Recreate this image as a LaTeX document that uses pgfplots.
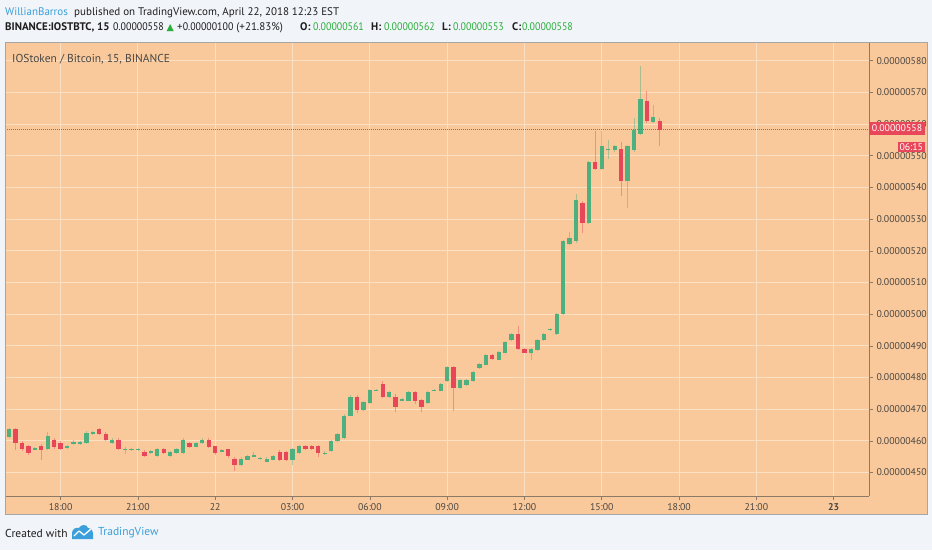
\documentclass[border=0pt]{standalone}
\usepackage{graphicx}
\usepackage{pgfplots}
\pgfplotsset{compat=1.18}
\usepackage{pgfplotstable}
\usepackage{fontspec}
\setmainfont{PT Sans}
\newfontfamily\symfont{DejaVu Sans}
\definecolor{bgout}{HTML}{F1F4F8}
\definecolor{panel}{HTML}{F9C99C}
\definecolor{gridc}{HTML}{FCE0C4}
\definecolor{upc}{HTML}{4DB07E}
\definecolor{dnc}{HTML}{E8475A}
\definecolor{tvblue}{HTML}{3A9FDA}
\definecolor{txtgray}{HTML}{4A4641}
\definecolor{axline}{HTML}{8C7A66}
\definecolor{headgreen}{HTML}{2AAE3A}
\definecolor{darktxt}{HTML}{1E1E1E}
\newcommand{\nar}[1]{\scalebox{0.9}[1]{#1}}

% t = hours after 18:00 (Apr 21); o h l c in satoshi (1e-8 BTC)
\pgfplotstableread{
t o h l c
-2.00 461.3 464.0 461.0 463.6
-1.00 457.2 458.0 457.0 457.6
-0.50 457.3 462.8 457.0 461.5
0.25 457.9 458.8 457.5 458.3
0.50 459.1 460.3 458.8 459.5
0.75 459.1 460.0 458.8 459.5
1.00 459.2 463.0 459.0 462.5
1.25 462.3 463.0 462.0 462.7
2.00 459.2 460.8 459.0 460.4
2.50 457.1 458.0 456.0 457.5
2.75 457.1 457.8 456.8 457.5
3.00 457.1 457.8 456.8 457.5
3.50 456.3 457.0 456.0 456.7
3.75 455.2 457.8 455.0 457.3
4.25 455.2 456.8 455.0 456.5
4.50 456.2 457.6 456.0 457.3
4.75 456.2 461.0 456.0 460.4
5.25 458.1 459.8 458.0 459.4
5.50 459.2 460.8 459.0 460.4
6.25 456.6 457.3 456.4 457.0
7.00 452.3 454.8 452.0 454.4
7.25 454.1 455.5 454.0 455.2
7.50 455.0 456.5 454.8 455.4
7.75 454.3 455.0 454.0 454.7
8.00 453.4 454.8 453.2 454.4
8.25 454.1 455.5 454.0 455.2
9.00 454.1 457.6 452.5 457.3
9.25 456.2 458.6 456.0 458.3
10.25 455.9 456.8 455.7 456.3
10.50 456.8 460.4 456.5 460.0
10.75 460.0 462.5 459.8 462.1
11.00 460.8 468.4 460.5 468.0
11.25 468.0 474.5 467.8 474.0
11.75 469.6 472.6 469.4 472.2
12.00 471.9 476.5 471.7 476.1
12.25 475.8 476.5 475.6 476.2
12.75 473.8 475.6 473.6 475.3
13.25 472.7 473.4 472.5 473.1
13.50 472.7 475.6 472.5 475.3
14.25 471.9 475.6 471.6 475.3
14.50 475.8 476.5 475.6 476.2
14.75 475.8 478.4 475.6 477.9
15.00 478.9 483.5 478.6 483.2
15.50 476.8 479.6 476.5 479.3
15.75 477.7 479.6 477.4 479.3
16.00 478.9 482.2 478.6 481.9
16.25 483.0 484.5 482.8 484.2
16.50 484.0 487.5 483.8 487.2
17.00 485.6 488.3 485.4 488.0
17.25 487.9 491.5 487.7 491.2
17.50 491.7 494.1 491.5 493.8
18.25 487.9 489.3 485.6 489.0
18.50 488.7 492.2 488.4 491.9
18.75 491.9 494.1 491.6 493.8
19.00 494.9 495.6 494.7 495.3
19.25 493.6 500.4 493.4 500.1
19.50 500.1 523.5 499.8 523.2
19.75 522.2 526.0 521.8 524.1
20.00 523.0 538.0 522.5 536.2
20.50 528.8 548.5 528.5 548.0
21.00 545.9 557.7 545.5 553.0
21.25 551.8 555.0 549.0 552.2
21.50 551.7 553.5 551.3 553.0
22.00 541.9 553.5 533.5 553.0
22.25 551.7 561.8 551.3 558.0
22.50 556.9 578.2 556.5 568.0
23.00 560.7 566.0 560.3 562.1
}\upcandles

\pgfplotstableread{
t o h l c
-1.75 463.6 464.0 457.0 459.2
-1.50 459.4 460.0 456.8 457.3
-1.25 458.3 458.8 455.5 456.2
-0.75 458.3 459.0 454.0 457.1
-0.25 460.4 461.0 457.5 458.1
0.00 459.4 460.0 457.0 457.3
1.50 463.6 464.0 462.0 462.3
1.75 462.3 462.8 460.0 460.4
2.25 460.4 460.8 457.0 457.3
3.25 456.5 457.0 454.8 455.2
4.00 457.3 457.8 456.0 456.2
5.00 459.4 459.8 457.8 458.1
5.75 460.4 460.8 457.8 458.1
6.00 458.3 458.5 455.5 456.2
6.50 457.3 457.5 454.5 455.2
6.75 454.4 454.8 450.4 452.3
8.50 456.5 457.0 453.8 454.1
8.75 456.5 456.8 453.8 454.1
9.50 458.3 458.6 457.0 457.3
9.75 458.3 458.6 457.0 457.3
10.00 458.3 458.6 455.0 456.2
11.50 474.0 474.5 468.8 469.8
12.50 478.0 478.8 473.5 473.8
13.00 474.0 474.8 469.0 470.8
13.75 475.3 475.6 471.8 472.7
14.00 472.9 473.2 469.0 470.8
15.25 483.2 483.5 469.3 476.8
16.75 487.2 487.5 485.5 485.8
17.75 493.8 496.4 488.6 488.9
18.00 489.0 489.3 487.6 487.9
20.25 535.1 535.6 525.6 528.8
20.75 548.0 557.7 545.5 545.9
21.75 552.1 554.5 537.2 541.9
22.75 567.2 570.3 560.5 560.9
23.25 561.0 562.0 553.0 558.0
}\downcandles

\begin{document}
\begin{tikzpicture}[x=1pt,y=1pt]
% page and panel
\fill[bgout] (0,0) rectangle (932,550);
\fill[panel] (5,36) rectangle (927,507.3);

\begin{axis}[
  at={(5pt,54pt)}, anchor=south west,
  width=864pt, height=453.3pt, scale only axis,
  xmin=-2.158, xmax=31.37, ymin=442.6, ymax=585.7,
  axis x line*=bottom, axis y line*=right,
  axis line style={axline, line width=0.9pt},
  tick align=outside, major tick length=4pt,
  tick style={axline, line width=0.6pt},
  grid=major, grid style={gridc, line width=0.9pt},
  xtick={0,3,...,30},
  xticklabels={18:00,21:00,22,03:00,06:00,09:00,12:00,15:00,18:00,21:00,\textbf{23}},
  ytick={450,460,...,580},
  yticklabels={0.00000450,0.00000460,0.00000470,0.00000480,0.00000490,0.00000500,0.00000510,0.00000520,0.00000530,0.00000540,0.00000550,0.00000560,0.00000570,0.00000580},
  tick label style={font=\fontsize{9.8}{10}\selectfont, text=txtgray},
  clip=true,
]
% wicks
\addplot[upc, opacity=0.45, line width=0.8pt, quiver={u=0, v={\thisrow{h}-\thisrow{l}}}] table[x=t, y=l] {\upcandles};
\addplot[dnc, opacity=0.45, line width=0.8pt, quiver={u=0, v={\thisrow{h}-\thisrow{l}}}] table[x=t, y=l] {\downcandles};
% bodies
\addplot[upc, line width=4.3pt, quiver={u=0, v={\thisrow{c}-\thisrow{o}}}] table[x=t, y=o] {\upcandles};
\addplot[dnc, line width=4.3pt, quiver={u=0, v={\thisrow{c}-\thisrow{o}}}] table[x=t, y=o] {\downcandles};
% last price line
\addplot[dnc, dash pattern=on 1pt off 1pt, line width=0.8pt] coordinates {(-2.158,558.4) (31.37,558.4)};
\end{axis}

% panel border
\draw[gray!70, line width=0.8pt] (5,36) rectangle (927,507.3);

% price tags
\fill[dnc] (869,415) rectangle (925,428.3);
\node[text=white, font=\fontsize{9.8}{10}\selectfont] at (897,421.6) {0.00000558};
\fill[dnc] (897.7,398.3) rectangle (925,408.3);
\node[text=white, font=\fontsize{9.8}{10}\selectfont] at (911.3,403.3) {06:15};

% chart title
\node[anchor=west, text=txtgray, font=\fontsize{11.5}{12}\selectfont, inner sep=0] at (12,490.7) {IOStoken / Bitcoin, 15, BINANCE};

% header line 1
\begin{scope}[every node/.style={anchor=base west, inner sep=0, font=\fontsize{11}{13}\selectfont, text=darktxt}]
\node at (5,534) {\textcolor{tvblue}{WillianBarros}};
\node at (74,534) {published on TradingView.com, April 22, 2018 12:23 EST};
\end{scope}
% header line 2
\begin{scope}[every node/.style={anchor=base west, inner sep=0, font=\fontsize{11}{13}\selectfont, text=darktxt}]
\node at (5,519) {\textbf{BINANCE:IOSTBTC, 15}};
\node at (113,519) {\nar{0.00000558}};
\node[text=headgreen] at (166.5,519) {\symfont\fontsize{9.5}{10}\selectfont ▲};
\node at (177,519) {+\nar{0.00000100} (+21.83\%)};
\node at (300,519) {\textbf{O:}};
\node[text=headgreen] at (313,519) {\nar{0.00000561}};
\node at (371,519) {\textbf{H:}};
\node[text=headgreen] at (384,519) {\nar{0.00000562}};
\node at (442,519) {\textbf{L:}};
\node[text=headgreen] at (453,519) {\nar{0.00000553}};
\node at (512,519) {\textbf{C:}};
\node[text=headgreen] at (522,519) {\nar{0.00000558}};
\end{scope}

% footer
\node[anchor=west, inner sep=0, font=\fontsize{11.5}{13}\selectfont, text=darktxt] at (5,17) {Created with};
\begin{scope}[shift={(72,11)}]
  \fill[tvblue] (0,0) -- (0,6) .. controls (0,10) and (4,12) .. (7,11) .. controls (9,15) and (15,15) .. (16,11) .. controls (20,11) and (21,7) .. (21,5) -- (21,0) -- cycle;
  \draw[white, line width=1.3pt, line join=round] (2,3) -- (7,8) -- (12,4) -- (19,10);
\end{scope}
\node[anchor=west, inner sep=0, font=\fontsize{11.5}{13}\selectfont, text=tvblue] at (98,17) {TradingView};
\end{tikzpicture}
\end{document}
